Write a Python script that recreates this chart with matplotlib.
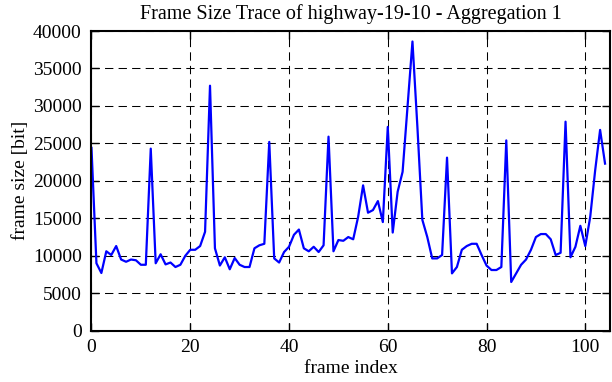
import numpy as np
import matplotlib
matplotlib.use('Agg')
import matplotlib.pyplot as plt

# Valores (tamano de trama en bits)
frame_index = np.arange(0, 105)
frame_size = [
    24400, 9000, 7700, 10600, 10100, 11300, 9500, 9200, 9500, 9400,
    8800, 8800, 24300, 9000, 10200, 8850, 9100, 8500, 8800, 10000,
    10800, 10800, 11300, 13200, 32700, 11000, 8700, 9800, 8200, 9700,
    8800, 8500, 8500, 11000, 11400, 11600, 25200, 9650, 9100, 10500,
    11200, 12800, 13500, 11000, 10600, 11200, 10500, 11400, 25900, 10600,
    12100, 12000, 12500, 12200, 15200, 19400, 15750, 16100, 17300, 14500,
    27200, 13100, 18550, 21200, 29900, 38600, 27200, 14800, 12500, 9650,
    9650, 10100, 23100, 7650, 8500, 10800, 11300, 11600, 11600, 10100,
    8700, 8100, 8100, 8500, 25400, 6500, 7650, 8800, 9500, 10800,
    12500, 12900, 12900, 12200, 10100, 10400, 27900, 9800, 11200, 14000,
    11300, 15200, 21400, 26800, 22300,
]

x_ticks = [0, 20, 40, 60, 80, 100]
y_ticks = [0, 5000, 10000, 15000, 20000, 25000, 30000, 35000, 40000]

plt.rcParams['font.family'] = ['Liberation Serif', 'DejaVu Serif']
plt.rcParams['font.size'] = 14

fig = plt.figure(figsize=(6.12, 3.82), dpi=100)
ax = fig.add_axes([0.1495, 0.1343, 0.8472, 0.7845])

ax.plot(frame_index, frame_size, color='#0000ff', linewidth=1.6)

ax.set_xlim(0, 105)
ax.set_ylim(0, 40000)
ax.set_xticks(x_ticks)
ax.set_yticks(y_ticks)

# Rejilla discontinua estilo gnuplot
ax.grid(True, color='black', linestyle=(0, (8, 5)), linewidth=0.75)

ax.tick_params(direction='in', length=6, width=1, top=True, right=True, pad=6)
ax.tick_params(axis='y', pad=7)
for spine in ax.spines.values():
    spine.set_linewidth(1.5)

ax.set_xlabel('frame index', labelpad=3)
ax.set_ylabel('frame size [bit]', labelpad=3)
ax.set_title('Frame Size Trace of highway-19-10 - Aggregation 1', fontsize=14.5, pad=9)

plt.savefig('out.png', dpi=100)
plt.close()
